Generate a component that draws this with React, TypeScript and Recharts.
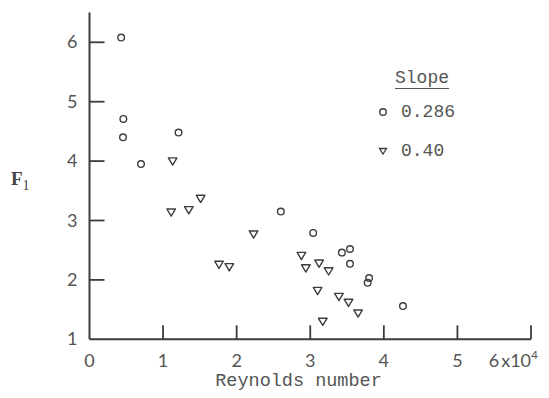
import React from "react";
import { ScatterChart, Scatter, XAxis, YAxis, Legend } from "recharts";

// Reynolds number (x 10^4) and F1
const circleRe = [0.43, 0.46, 0.455, 0.7, 1.21, 2.6, 3.04, 3.43, 3.54, 3.54, 3.8, 3.78, 4.26];
const circleF = [6.08, 4.71, 4.4, 3.95, 4.48, 3.15, 2.79, 2.46, 2.52, 2.27, 2.03, 1.95, 1.56];

const triRe = [1.13, 1.11, 1.35, 1.51, 2.23, 1.76, 1.9, 2.88, 2.94, 3.12, 3.25, 3.1, 3.39, 3.52, 3.65, 3.17];
const triF = [4.0, 3.14, 3.18, 3.37, 2.77, 2.26, 2.22, 2.41, 2.2, 2.28, 2.15, 1.82, 1.72, 1.62, 1.44, 1.3];

const xTicks = [0, 1, 2, 3, 4, 5, 6];
const yTicks = [1, 2, 3, 4, 5, 6];

const circleData = circleRe.map((x, i) => ({ x, y: circleF[i] }));
const triData = triRe.map((x, i) => ({ x, y: triF[i] }));

const INK = "#3d3d3d";
const TICK_FONT = "Lato, 'Open Sans', sans-serif";
const MONO = "'Liberation Mono', 'DejaVu Sans Mono', monospace";

const CircleMark = (p: any) => (
  <circle cx={p.cx} cy={p.cy} r={3.3} fill="none" stroke={INK} strokeWidth={1.4} />
);

const TriMark = (p: any) => (
  <path
    d={`M${p.cx - 4.3},${p.cy - 3.2} L${p.cx + 4.3},${p.cy - 3.2} L${p.cx},${p.cy + 4} Z`}
    fill="none"
    stroke={INK}
    strokeWidth={1.4}
    strokeLinejoin="round"
  />
);

const XTick = (p: any) => {
  const v = p.payload.value;
  return (
    <g>
      {v !== 0 && (
        <line x1={p.x} x2={p.x} y1={p.y} y2={p.y - 14} stroke={INK} strokeWidth={1.8} />
      )}
      {v === 6 ? (
        <text x={p.x + 7} y={p.y + 28} textAnchor="end" fontSize={18} fill="#555" fontFamily={TICK_FONT}>
          6<tspan dx={2}>x10</tspan><tspan dy={-8} fontSize={12}>4</tspan>
        </text>
      ) : (
        <text x={p.x} y={p.y + 28} textAnchor="middle" fontSize={18} fill="#555" fontFamily={TICK_FONT}>
          {v}
        </text>
      )}
    </g>
  );
};

const YTick = (p: any) => {
  const v = p.payload.value;
  return (
    <g>
      {v !== 1 && (
        <line x1={p.x} x2={p.x + 15} y1={p.y} y2={p.y} stroke={INK} strokeWidth={1.8} />
      )}
      <text x={p.x - 12} y={p.y + 6} textAnchor="end" fontSize={18} fill="#555" fontFamily={TICK_FONT}>
        {v}
      </text>
    </g>
  );
};

const SlopeLegend = (props: any) => {
  const items = props.payload || [];
  return (
    <div style={{ fontFamily: MONO, fontSize: 18, color: "#555" }}>
      <div style={{ marginLeft: 20, height: 28, lineHeight: "28px" }}>
        <span style={{ borderBottom: "1.5px solid #555", paddingBottom: 0 }}>Slope</span>
      </div>
      {items.map((it: any) => (
        <div key={it.value} style={{ display: "flex", alignItems: "center", height: 39 }}>
          <svg width={20} height={20} style={{ marginRight: 6 }}>
            {it.value === "0.286" ? (
              <circle cx={8} cy={10} r={3.3} fill="none" stroke={INK} strokeWidth={1.4} />
            ) : (
              <path d="M4.5,7.5 L11.5,7.5 L8,13 Z" fill="none" stroke={INK} strokeWidth={1.3} />
            )}
          </svg>
          <span>{it.value}</span>
        </div>
      ))}
    </div>
  );
};

export default function App() {
  return (
    <div style={{ position: "absolute", left: 0, top: 0, width: 549, height: 398, background: "#fff" }}>
      <ScatterChart
        width={549}
        height={398}
        margin={{ top: 12.6, right: 18, bottom: 28.7, left: 29.5 }}
      >
        <XAxis
          type="number"
          dataKey="x"
          domain={[0, 6]}
          ticks={xTicks}
          height={30}
          tickSize={0}
          tickMargin={0}
          tickLine={false}
          axisLine={{ stroke: INK, strokeWidth: 2 }}
          tick={XTick}
          interval={0}
        />
        <YAxis
          type="number"
          dataKey="y"
          domain={[1, 6.5]}
          ticks={yTicks}
          width={60}
          tickSize={0}
          tickMargin={0}
          tickLine={false}
          axisLine={{ stroke: INK, strokeWidth: 2 }}
          tick={YTick}
          interval={0}
        />
        <Legend
          layout="vertical"
          align="center"
          verticalAlign="middle"
          content={SlopeLegend}
          wrapperStyle={{ left: 375, top: 64, width: 110 }}
        />
        <Scatter name="0.286" data={circleData} shape={CircleMark} isAnimationActive={false} />
        <Scatter name="0.40" data={triData} shape={TriMark} isAnimationActive={false} />
      </ScatterChart>
      <div
        style={{
          position: "absolute",
          left: 0,
          top: 372,
          width: 597,
          textAlign: "center",
          fontFamily: MONO,
          fontSize: 18.5,
          color: "#555",
          lineHeight: "20px",
        }}
      >
        Reynolds number
      </div>
      <div
        style={{
          position: "absolute",
          left: 11,
          top: 168,
          fontFamily: "'Liberation Serif', serif",
          fontWeight: "bold",
          fontSize: 19,
          color: "#444",
        }}
      >
        F<sub style={{ fontSize: 14, fontWeight: "normal" }}>1</sub>
      </div>
    </div>
  );
}
